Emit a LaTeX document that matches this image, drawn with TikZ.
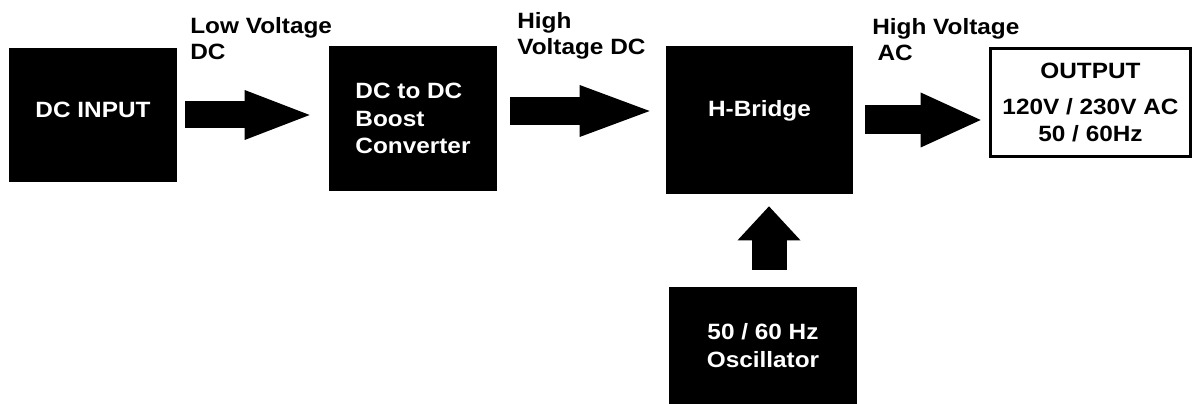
\documentclass[tikz,border=0pt]{standalone}
\usepackage{fontspec}
\setmainfont{Liberation Sans}[FakeStretch=1.1]
\usetikzlibrary{arrows.meta}

\tikzset{
  blk/.style={fill=black, text=white, inner sep=0pt, align=center,
    font=\bfseries\fontsize{12.6}{15.5}\selectfont},
  outbox/.style={draw=black, line width=1.5pt, fill=white, inner sep=0pt, align=center,
    font=\bfseries\fontsize{12.6}{15.5}\selectfont},
  lbl/.style={inner sep=0pt, anchor=north west, align=left,
    font=\bfseries\fontsize{12.6}{14.8}\selectfont},
  barrow/.style args={#1/#2/#3}{line width=#1,
    -{Triangle[width=#2, length=#3, line width=0pt]}}
}

\begin{document}
\begin{tikzpicture}
\useasboundingbox (0,0) rectangle (23.86,8.08);

% Blocks
\node[blk, minimum width=3.36cm, minimum height=2.68cm, text depth=0.22cm] (dcin) at (1.86,5.78) {DC INPUT};
\node[blk, minimum width=3.36cm, minimum height=2.9cm, align=left] (boost) at (8.26,5.71) {DC to DC\\Boost\\Converter};
\node[blk, minimum width=3.74cm, minimum height=2.96cm, text depth=0.45cm] (hb) at (15.19,5.68) {H-Bridge};
\node[outbox, minimum width=4.0cm, minimum height=2.17cm] (out) at (21.81,6.03) {OUTPUT\\[5pt]120V / 230V AC\\50 / 60Hz};
\node[blk, minimum width=3.76cm, minimum height=2.34cm] (osc) at (15.26,1.17) {50 / 60 Hz\\Oscillator};

% Arrow labels
\node[lbl] (lowv) at (3.80,7.74) {Low Voltage\\DC};
\node[lbl] (hvdc) at (10.34,7.84) {High\\Voltage DC};
\node[lbl] (hvac) at (17.44,7.72) {High Voltage\\\hspace{3pt}AC};

% Block arrows
\draw[barrow=0.54cm/1.0cm/1.3cm, shorten <=0.16cm, shorten >=0.38cm] (dcin.east) -- (dcin.east -| boost.west);
\draw[barrow=0.56cm/1.04cm/1.4cm, shorten <=0.26cm, shorten >=0.32cm] ([yshift=0.15cm]boost.east) -- ([yshift=0.15cm]boost.east -| hb.west);
\draw[barrow=0.58cm/1.1cm/1.2cm, shorten <=0.24cm, shorten >=0.17cm] (hb.east) -- (hb.east -| out.west);
\draw[barrow=0.7cm/1.26cm/0.68cm, shorten <=0.34cm, shorten >=0.24cm] ([xshift=0.12cm]osc.north) -- ([xshift=0.12cm]osc.north |- hb.south);
\end{tikzpicture}
\end{document}
